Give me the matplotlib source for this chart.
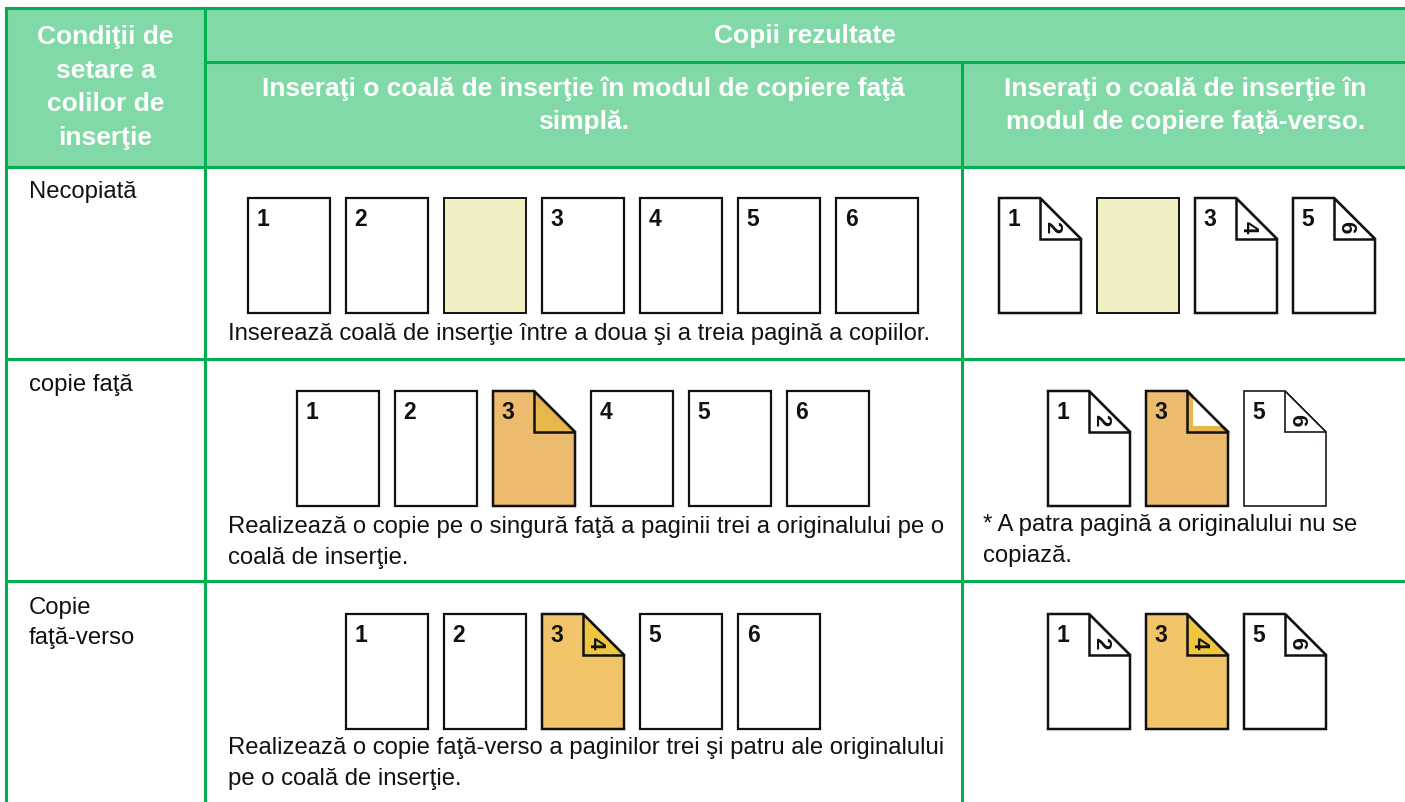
import matplotlib
matplotlib.use("Agg")
import matplotlib.pyplot as plt
from matplotlib.patches import Polygon, Rectangle

plt.rcParams["font.family"] = ["Liberation Sans", "DejaVu Sans"]

#
# table texts
#
corner_header = ["Condiţii de", "setare a", "colilor de", "inserţie"]
top_header = "Copii rezultate"
simplex_header = ["Inseraţi o coală de inserţie în modul de copiere faţă", "simplă."]
duplex_header = ["Inseraţi o coală de inserţie în", "modul de copiere faţă-verso."]

row_labels = [["Necopiată"], ["copie faţă"], ["Copie", "faţă-verso"]]

#
# page sequences for each cell (front number, back number, kind of sheet)
#
simplex_fronts = [["1", "2", "", "3", "4", "5", "6"], ["1", "2", "3", "4", "5", "6"], ["1", "2", "3", "5", "6"]]
simplex_backs = [["", "", "", "", "", "", ""], ["", "", "", "", "", ""], ["", "", "4", "", ""]]
simplex_kinds = [
    ["plain", "plain", "insert", "plain", "plain", "plain", "plain"],
    ["plain", "plain", "single", "plain", "plain", "plain"],
    ["plain", "plain", "duplex", "plain", "plain"],
]

duplex_fronts = [["1", "", "3", "5"], ["1", "3", "5"], ["1", "3", "5"]]
duplex_backs = [["2", "", "4", "6"], ["2", "", "6"], ["2", "4", "6"]]
duplex_kinds = [
    ["folded", "insert", "folded", "folded"],
    ["folded", "single_blank", "folded_thin"],
    ["folded", "duplex", "folded"],
]

simplex_notes = [
    ["Inserează coală de inserţie între a doua şi a treia pagină a copiilor."],
    ["Realizează o copie pe o singură faţă a paginii trei a originalului pe o", "coală de inserţie."],
    ["Realizează o copie faţă-verso a paginilor trei şi patru ale originalului", "pe o coală de inserţie."],
]
duplex_notes = [[], ["* A patra pagină a originalului nu se", "copiază."], []]

#
# colours
#
GREEN = "#00B050"
HEAD_BG = "#82D9A8"
INSERT = "#F0EFC4"
ORANGE = "#EDBB6E"
ORANGE_FOLD = "#E6B74A"
GOLD = "#F2C46A"
GOLD_FOLD = "#F0C63E"

#
# layout (pixel coordinates)
#
W, H = 1405, 803
x_left, x_col1, x_col2 = 6, 205, 962
y_top, y_head1, y_head2 = 9, 63, 168
row_lines = [360, 582]
row_tops = [199, 392, 615]
page_w, page_h, fold = 82, 115, 41
step = 98
simplex_center, duplex_center = 583, 1187
simplex_note_y = [[334], [527, 558], [748, 779]]
duplex_note_y = [[], [525, 556], []]


def draw_page(ax, x0, y0, front, back, kind):
    x1, y1 = x0 + page_w, y0 + page_h
    if kind in ("plain", "insert"):
        fill = INSERT if kind == "insert" else "white"
        lw = 1.4 if kind == "insert" else 1.6
        ax.add_patch(Rectangle((x0, y0), page_w, page_h, facecolor=fill, edgecolor="#111111", lw=lw, zorder=3))
    else:
        body = {"folded": "white", "folded_thin": "white", "single": ORANGE,
                "single_blank": ORANGE, "duplex": GOLD}[kind]
        corner = {"folded": "white", "folded_thin": "white", "single": ORANGE_FOLD,
                  "single_blank": ORANGE_FOLD, "duplex": GOLD_FOLD}[kind]
        edge = "#231815" if kind == "folded_thin" else "#111111"
        lw = 1.2 if kind == "folded_thin" else 1.8
        outline = [(x0, y0), (x1 - fold, y0), (x1, y0 + fold), (x1, y1), (x0, y1)]
        ax.add_patch(Polygon(outline, closed=True, facecolor=body, edgecolor=edge, lw=lw, zorder=3, joinstyle="miter"))
        tri = [(x1 - fold, y0), (x1 - fold, y0 + fold), (x1, y0 + fold)]
        ax.add_patch(Polygon(tri, closed=True, facecolor=corner, edgecolor=edge, lw=lw, zorder=4, joinstyle="miter"))
        if kind == "single_blank":
            inner = [(x1 - fold + 6, y0 + 4), (x1 - fold + 6, y0 + fold - 6), (x1 - 4, y0 + fold - 6)]
            ax.add_patch(Polygon(inner, closed=True, facecolor="white", edgecolor="none", zorder=5))
            ax.plot([x1 - fold, x1], [y0, y0 + fold], color=edge, lw=lw, zorder=5)
        if back:
            ax.text(x1 - 29, y0 + 28, back, rotation=-90, fontsize=16,
                    fontweight="bold", ha="center", va="center", zorder=6, color="#111111")
    if front:
        ax.text(x0 + 15, y0 + 21, front, fontsize=16.5, fontweight="bold", ha="center", va="center",
                zorder=6, color="#111111")


def draw_row(ax, center, top, fronts, backs, kinds):
    n = len(fronts)
    start = center - ((n - 1) * step + page_w) / 2
    for i in range(n):
        draw_page(ax, start + i * step, top, fronts[i], backs[i], kinds[i])


fig = plt.figure(figsize=(W / 100, H / 100), dpi=100)
ax = fig.add_axes([0, 0, 1, 1])
ax.set_xlim(0, W)
ax.set_ylim(H, 0)
ax.axis("off")

# header background
ax.add_patch(Rectangle((x_left, y_top), W - x_left + 5, y_head2 - y_top, facecolor=HEAD_BG, edgecolor="none", zorder=1))

# grid lines
lw_grid = 2.2
ax.plot([x_left, W + 5], [y_top, y_top], color=GREEN, lw=lw_grid, zorder=2)
ax.plot([x_left, x_left], [y_top, H + 5], color=GREEN, lw=lw_grid, zorder=2)
ax.plot([x_col1, x_col1], [y_top, H + 5], color=GREEN, lw=lw_grid, zorder=2)
ax.plot([x_col2, x_col2], [y_head1, H + 5], color=GREEN, lw=lw_grid, zorder=2)
ax.plot([x_col1, W + 5], [y_head1, y_head1], color=GREEN, lw=lw_grid, zorder=2)
for yy in [y_head2] + row_lines:
    ax.plot([x_left, W + 5], [yy, yy], color=GREEN, lw=lw_grid, zorder=2)

# header texts
head_kw = dict(color="white", fontweight="bold", fontsize=19, ha="center", va="center", zorder=3)
for i, line in enumerate(corner_header):
    ax.text((x_left + x_col1) / 2, 37 + i * 33.5, line, **head_kw)
ax.text((x_col1 + W) / 2, 36, top_header, **head_kw)
for i, line in enumerate(simplex_header):
    ax.text((x_col1 + x_col2) / 2, 89 + i * 33, line, **head_kw)
for i, line in enumerate(duplex_header):
    ax.text((x_col2 + W) / 2 + 2, 89 + i * 33, line, **head_kw)

# body rows
body_kw = dict(color="#111111", fontsize=17.2, ha="left", va="center", zorder=3)
label_y = [[192], [385], [608, 638]]
for r in range(3):
    for line, yy in zip(row_labels[r], label_y[r]):
        ax.text(29, yy, line, **body_kw)
    draw_row(ax, simplex_center, row_tops[r], simplex_fronts[r], simplex_backs[r], simplex_kinds[r])
    draw_row(ax, duplex_center, row_tops[r], duplex_fronts[r], duplex_backs[r], duplex_kinds[r])
    for line, yy in zip(simplex_notes[r], simplex_note_y[r]):
        ax.text(228, yy, line, **body_kw)
    for line, yy in zip(duplex_notes[r], duplex_note_y[r]):
        ax.text(983, yy, line, **body_kw)

fig.savefig("out.png", dpi=100)
